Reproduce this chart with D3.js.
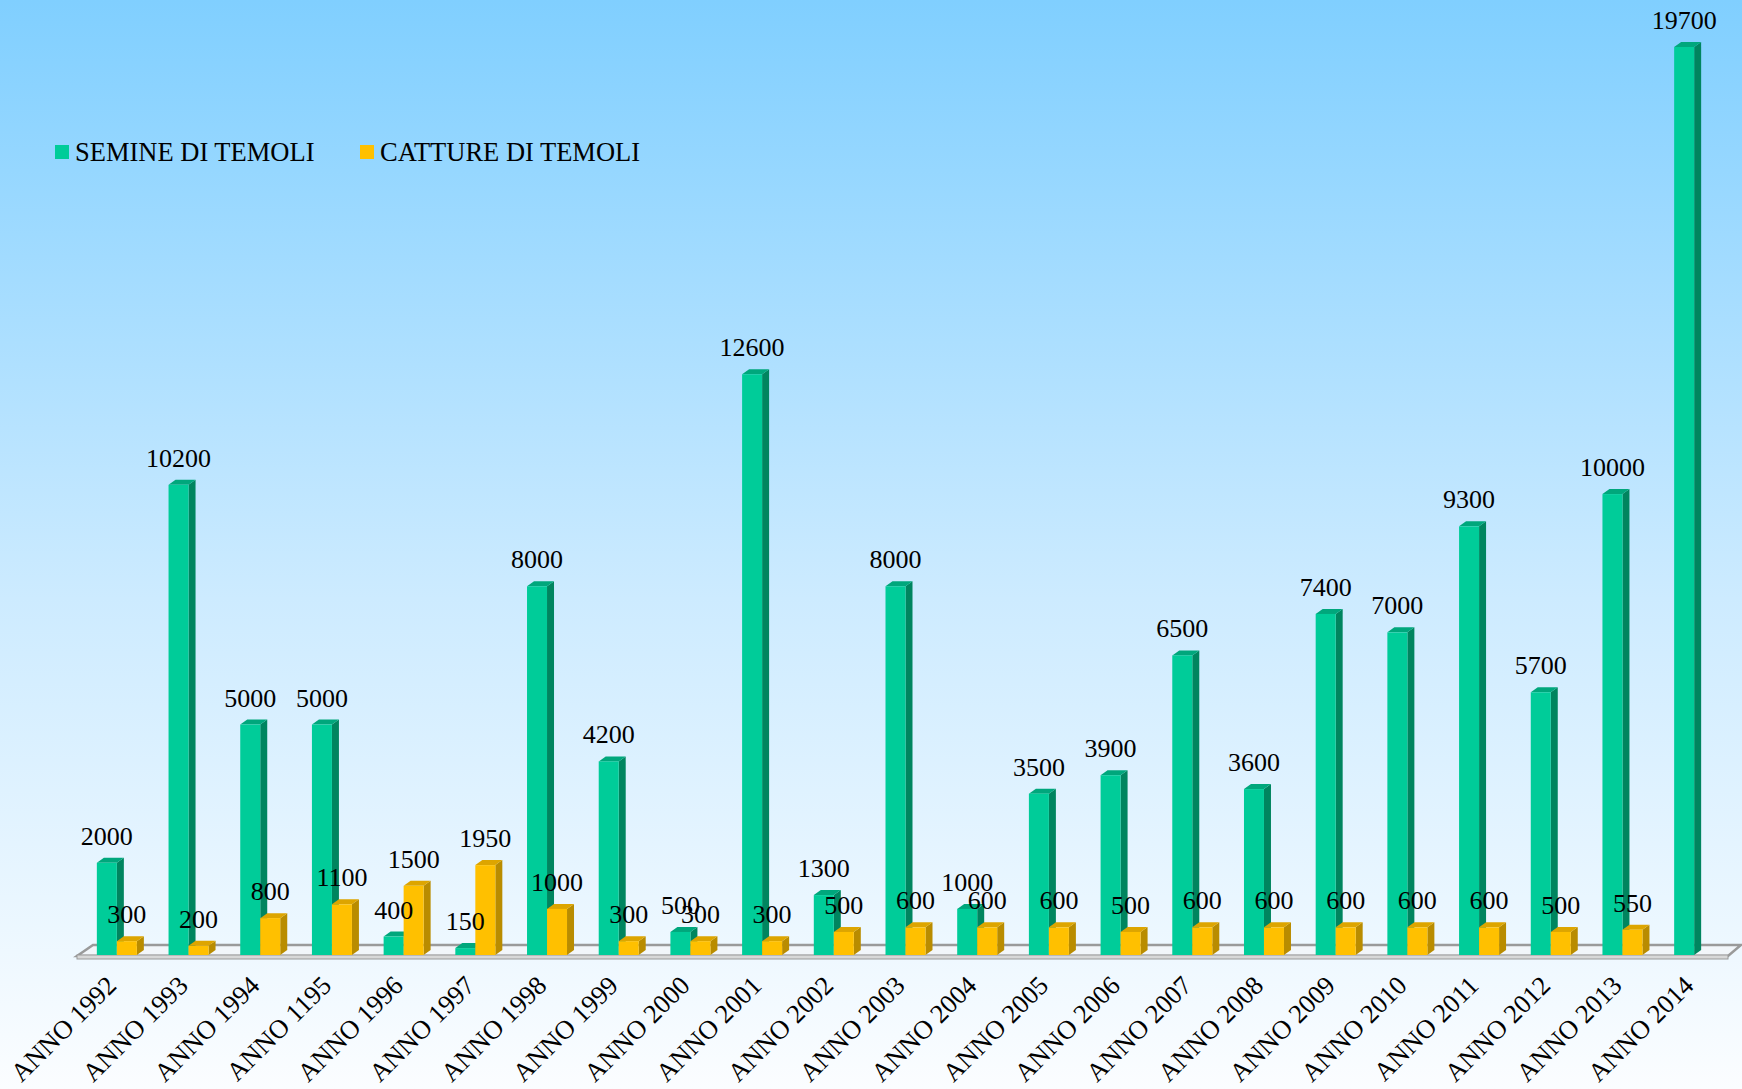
<!DOCTYPE html>
<html>
<head>
<meta charset="utf-8">
<script src="https://cdn.jsdelivr.net/npm/d3@7"></script>
<style>
  html, body { margin: 0; padding: 0; background: #fff; }
  svg { display: block; }
</style>
</head>
<body>
<svg id="chart" width="1742" height="1089"></svg>
<script>
const categories = ["ANNO 1992","ANNO 1993","ANNO 1994","ANNO 1195","ANNO 1996","ANNO 1997","ANNO 1998","ANNO 1999","ANNO 2000","ANNO 2001","ANNO 2002","ANNO 2003","ANNO 2004","ANNO 2005","ANNO 2006","ANNO 2007","ANNO 2008","ANNO 2009","ANNO 2010","ANNO 2011","ANNO 2012","ANNO 2013","ANNO 2014"];
const seriesNames = ["SEMINE DI TEMOLI", "CATTURE DI TEMOLI"];
const semine = [2000,10200,5000,5000,400,150,8000,4200,500,12600,1300,8000,1000,3500,3900,6500,3600,7400,7000,9300,5700,10000,19700];
const catture = [300,200,800,1100,1500,1950,1000,300,300,300,500,600,600,600,500,600,600,600,600,600,500,550,null];

const colors = [
  {front: "#00CC99", side: "#00855F", top: "#00A77C"},
  {front: "#FFC000", side: "#B98C00", top: "#DDA500"}
];

const W = 1742, H = 1089;
const svg = d3.select("#chart");
const FONT = "'Liberation Serif', 'Times New Roman', serif";

// background gradient
const defs = svg.append("defs");
const grad = defs.append("linearGradient").attr("id","bg").attr("x1",0).attr("y1",0).attr("x2",0).attr("y2",1);
grad.append("stop").attr("offset","0%").attr("stop-color","#80CFFF");
grad.append("stop").attr("offset","55%").attr("stop-color","#CDEBFF");
grad.append("stop").attr("offset","100%").attr("stop-color","#FBFDFF");
svg.append("rect").attr("width",W).attr("height",H).attr("fill","url(#bg)");

const x0 = d3.scaleBand().domain(categories).range([81, 1730]).paddingInner(0).paddingOuter(0);
const x1 = d3.scaleBand().domain(seriesNames).range([-20, 20]);
const y = d3.scaleLinear().domain([0, 19700]).range([955, 47]);

const dx = 7, dy = -5;

// floor
const floor = svg.append("g");
floor.append("polygon")
  .attr("points", [[77,956],[1728,956],[1741,945],[93,945]].map(p=>p.join(",")).join(" "))
  .attr("fill", "#F2F6FA").attr("stroke", "#9A9A9A").attr("stroke-width", 2.5);
floor.append("rect").attr("x",77).attr("y",955).attr("width",1651).attr("height",4)
  .attr("fill","#D8D8D8").attr("stroke","#9A9A9A").attr("stroke-width",1);

// bars
const data = categories.map((c,i) => ({cat: c, vals: [semine[i], catture[i]]}));
const groups = svg.append("g").selectAll("g").data(data).join("g")
  .attr("transform", d => `translate(${x0(d.cat) + x0.bandwidth()/2},0)`);

groups.each(function(d) {
  const g = d3.select(this);
  d.vals.forEach((v, si) => {
    if (v == null) return;
    const xl = x1(seriesNames[si]);
    const w = x1.bandwidth();
    const yt = y(v), yb = y(0);
    const c = colors[si];
    g.append("polygon")
      .attr("points", [[xl+w,yt],[xl+w+dx,yt+dy],[xl+w+dx,yb+dy],[xl+w,yb]].map(p=>p.join(",")).join(" "))
      .attr("fill", c.side);
    g.append("polygon")
      .attr("points", [[xl,yt],[xl+dx,yt+dy],[xl+w+dx,yt+dy],[xl+w,yt]].map(p=>p.join(",")).join(" "))
      .attr("fill", c.top);
    g.append("rect").attr("x", xl).attr("y", yt).attr("width", w).attr("height", yb-yt).attr("fill", c.front);
  });
});

// value labels
groups.each(function(d) {
  const g = d3.select(this);
  d.vals.forEach((v, si) => {
    if (v == null) return;
    g.append("text")
      .attr("x", x1(seriesNames[si]) + x1.bandwidth()/2)
      .attr("y", y(v) - 18)
      .attr("text-anchor", "middle")
      .attr("font-family", FONT)
      .attr("font-size", 26)
      .attr("fill", "#000")
      .text(v);
  });
});

// category axis
const axis = svg.append("g").attr("transform", "translate(0,975)")
  .call(d3.axisBottom(x0).tickSize(0));
axis.select(".domain").remove();
axis.selectAll("text")
  .attr("x", 0).attr("y", 0).attr("dy", 0)
  .attr("transform", "translate(1,12) rotate(-45)")
  .style("text-anchor", "end")
  .attr("font-family", FONT)
  .attr("font-size", 26.5)
  .attr("fill", "#000");

// legend
const legendItems = [{x: 55, tx: 75}, {x: 360, tx: 380}];
const legend = svg.append("g");
seriesNames.forEach((s, i) => {
  legend.append("rect").attr("x", legendItems[i].x).attr("y", 145).attr("width", 14).attr("height", 14).attr("fill", colors[i].front);
  legend.append("text").attr("x", legendItems[i].tx).attr("y", 161)
    .attr("font-family", FONT)
    .attr("font-size", 26.5).attr("fill", "#000").text(s);
});
</script>
</body>
</html>
